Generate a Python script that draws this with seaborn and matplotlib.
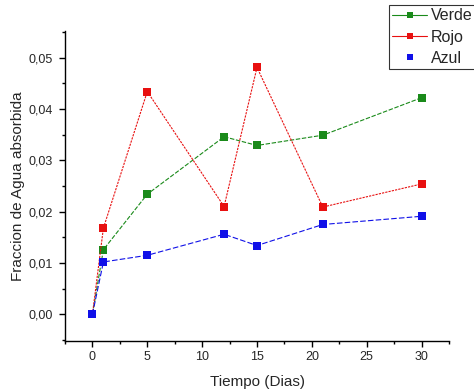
import matplotlib
matplotlib.use("Agg")
import matplotlib.pyplot as plt
from matplotlib.lines import Line2D
from matplotlib.ticker import MultipleLocator
import seaborn as sns
import pandas as pd

dias = [0, 1, 5, 12, 15, 21, 30]
verde = [0.0, 0.0126, 0.0234, 0.0346, 0.0329, 0.0349, 0.0422]
rojo = [0.0, 0.0168, 0.0434, 0.0210, 0.0481, 0.0209, 0.0254]
azul = [0.0, 0.0102, 0.0115, 0.0156, 0.0134, 0.0175, 0.0191]
xticks = [0, 5, 10, 15, 20, 25, 30]
yticks = [0.00, 0.01, 0.02, 0.03, 0.04, 0.05]
ytick_labels = ["0,00", "0,01", "0,02", "0,03", "0,04", "0,05"]

sns.set_theme(style="ticks")
plt.rcParams['font.family'] = ['Liberation Sans', 'DejaVu Sans']

fig = plt.figure(figsize=(4.74, 3.92), dpi=100)
ax = fig.add_axes([65/474, 1-341/392, (449-65)/474, (341-31)/392])

series = [("Verde", verde, "#1a8a1a", (0, (4, 1.5))),
          ("Rojo", rojo, "#e81010", (0, (2, 1))),
          ("Azul", azul, "#1010e8", (0, (5, 2)))]
for name, vals, col, ls in series:
    df = pd.DataFrame({"dias": dias, "val": vals})
    sns.lineplot(data=df, x="dias", y="val", ax=ax, color=col, linewidth=0.8,
                 linestyle=ls, marker="s", markersize=5.2, markeredgewidth=0,
                 markerfacecolor=col, legend=False)

ax.set_xlim(-2.5, 32.5)
ax.set_ylim(-0.0052, 0.0552)
ax.set_xticks(xticks)
ax.set_yticks(yticks)
ax.set_yticklabels(ytick_labels)
ax.xaxis.set_minor_locator(MultipleLocator(2.5))
ax.yaxis.set_minor_locator(MultipleLocator(0.005))
ax.tick_params(which="major", length=4, width=1, direction="out", labelsize=9, color="black")
ax.tick_params(axis="y", which="major", pad=5)
ax.tick_params(axis="x", which="major", pad=3)
ax.tick_params(which="minor", length=2.5, width=1, direction="out", color="black")
for s in ["top", "right"]:
    ax.spines[s].set_visible(False)
for s in ["left", "bottom"]:
    ax.spines[s].set_color("black")
    ax.spines[s].set_linewidth(1)
ax.set_xlabel("Tiempo (Dias)", fontsize=11, labelpad=9)
ax.set_ylabel("Fraccion de Agua absorbida", fontsize=11, labelpad=2)

handles = [
    Line2D([], [], color="#1a8a1a", lw=0.8, marker="s", markersize=5, markeredgewidth=0),
    Line2D([], [], color="#e81010", lw=0.8, marker="s", markersize=5, markeredgewidth=0),
    Line2D([], [], color="#1010e8", lw=0, marker="s", markersize=5, markeredgewidth=0),
]
leg = fig.legend(handles, ["Verde", "Rojo", "Azul"], loc="upper left",
                 bbox_to_anchor=(389/474, 1-5/392), fontsize=11.5, frameon=True,
                 fancybox=False, edgecolor="black", handlelength=2.2,
                 handletextpad=0.2, labelspacing=0.4, borderpad=0.2,
                 borderaxespad=0)
leg.get_frame().set_linewidth(0.8)

fig.savefig("out.png", dpi=100)
